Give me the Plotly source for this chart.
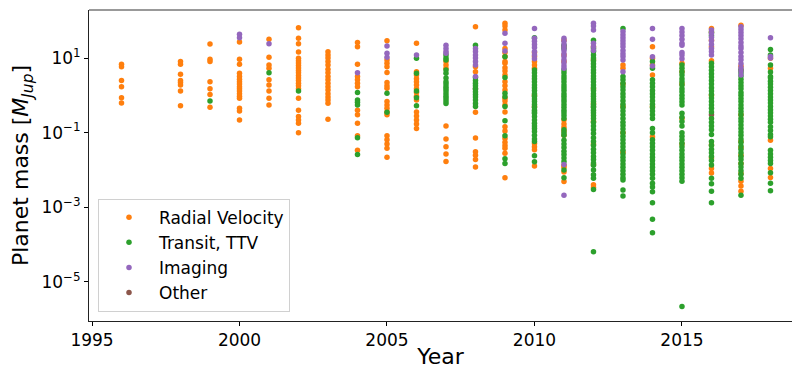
import plotly.graph_objects as go

# Planet masses [M_Jup] by discovery year, per detection method
rv_mass = {
    1996: [6.8, 5.8, 2.5, 1.7, 0.86, 0.62],
    1998: [8.0, 6.8, 3.7, 2.5, 2.2, 1.9, 1.3, 0.53],
    1999: [23.7, 9.2, 8.0, 2.3, 1.5, 1.06, 0.48],
    2000: [27, 9.2, 6.8, 3.9, 3.2, 2.7, 2.3, 2.0, 1.7, 1.5, 1.3, 1.1, 0.95, 0.83, 0.45, 0.38, 0.22],
    2001: [32, 10.4, 6.5, 5.3, 2.6, 1.9, 1.3, 0.83, 0.55],
    2002: [65, 34, 24, 14.5, 9.8, 8.5, 7.3, 6.3, 5.4, 4.6, 4.0, 3.4, 2.9, 2.5, 2.1, 1.8, 1.5,
           0.83, 0.40, 0.27, 0.22, 0.18, 0.10],
    2003: [14.7, 12, 10, 8, 6.5, 5, 4, 3.2, 2.6, 2.1, 1.7, 1.4, 1.1, 0.9, 0.75, 0.61, 0.23],
    2004: [26, 20, 6.8, 3.2, 2.6, 2.1, 1.7, 0.40, 0.30, 0.18, 0.083, 0.034],
    2005: [29, 8.8, 7.2, 5.8, 4.1, 2.2, 1.8, 1.55, 0.68, 0.55, 0.45, 0.36, 0.30, 0.083, 0.065,
           0.05, 0.038, 0.022],
    2006: [25, 4.3, 3.5, 2.8, 2.3, 1.9, 1.5, 1.2, 0.95, 0.75, 0.36, 0.28, 0.22, 0.17, 0.13],
    2007: [8, 6.5, 5.3, 0.15, 0.068, 0.042, 0.027, 0.017],
    2008: [69, 5.8, 4.3, 0.35, 0.072, 0.031, 0.025, 0.019, 0.012],
    2009: [85, 72, 56, 18, 14, 11, 8, 7.2, 5.5, 4.5, 3.5, 2.3, 1.8, 1.4, 0.83, 0.7, 0.55, 0.36,
           0.145, 0.11, 0.07, 0.055, 0.045, 0.038, 0.028, 0.0062],
    2010: [14, 11, 8, 6.5, 5.3, 1.0, 0.5, 0.051, 0.042, 0.035, 0.0128],
    2011: [30, 20, 12, 8, 0.22, 0.17, 0.14, 0.11, 0.085, 0.0134, 0.0118, 0.0089, 0.0049],
    2012: [20, 9, 1.5, 0.6, 0.2, 0.05, 0.014, 0.004, 0.0034],
    2013: [6.5, 5.3, 2, 0.5, 0.1, 0.03],
    2014: [20, 9.8, 6.5, 3.5, 0.5, 0.078],
    2015: [7.2, 4.3, 2, 0.24, 0.05],
    2016: [62, 50, 30, 20, 8.5, 1.0, 0.047, 0.021, 0.011, 0.0083],
    2017: [76, 6, 4.8, 0.3, 0.058, 0.04, 0.025, 0.015, 0.008, 0.005, 0.0037, 0.0027],
    2018: [9.8, 5.3, 0.063, 0.011, 0.0063],
}

transit_mass = {
    1999: [0.70],
    2001: [4.0],
    2002: [1.3],
    2004: [1.2, 0.75, 0.65, 0.55, 0.073, 0.026],
    2005: [1.13, 0.35],
    2006: [9.8, 3.9, 1.3, 0.86, 0.53],
    2007: [12, 10, 8.8, 4.8, 3.9, 2.9, 2.3, 2.0, 1.7, 1.5, 1.3, 1.1, 0.95, 0.82, 0.7, 0.6],
    2008: [22, 3.0, 2.5, 2.1, 1.8, 1.5, 1.25, 1.05, 0.9, 0.75, 0.6, 0.5],
    2009: [10.8, 3.0, 1.13, 0.92, 0.5, 0.21, 0.083, 0.02, 0.015],
    2010: [35, 4.8, 4.0, 3.3, 2.8, 2.3, 1.9, 1.6, 1.35, 1.1, 0.95, 0.8, 0.68, 0.57, 0.48, 0.40,
           0.36, 0.33, 0.27, 0.22, 0.18, 0.15, 0.13, 0.107, 0.085, 0.068, 0.058, 0.024, 0.0166],
    2011: [22, 18, 4.8, 4.0, 3.3, 2.8, 2.3, 1.9, 1.6, 1.35, 1.1, 0.95, 0.8, 0.68, 0.57, 0.48,
           0.40, 0.34, 0.29, 0.24, 0.12, 0.1, 0.085, 0.063, 0.05, 0.04, 0.032, 0.026, 0.021,
           0.017, 0.010, 0.0062],
    2012: [30, 18, 15, 12, 10, 8.5, 7, 5.8, 4.8, 4.0, 3.3, 2.8, 2.3, 1.9, 1.6, 1.35, 1.1, 0.95,
           0.8, 0.68, 0.57, 0.48, 0.40, 0.34, 0.29, 0.24, 0.19, 0.15, 0.12, 0.095, 0.073, 0.058,
           0.046, 0.036, 0.029, 0.023, 0.019, 0.0155, 0.0135, 0.010, 0.0075, 0.006, 0.003,
           0.000065],
    2013: [62, 3.2, 2.6, 2.1, 1.7, 1.4, 1.1, 0.9, 0.72, 0.58, 0.47, 0.38, 0.3, 0.24, 0.19,
           0.155, 0.125, 0.1, 0.08, 0.065, 0.052, 0.042, 0.034, 0.027, 0.022, 0.018, 0.0145,
           0.0118, 0.0095, 0.0077, 0.0062, 0.0054, 0.0029, 0.0020],
    2014: [8, 5.3, 2.6, 2.1, 1.7, 1.35, 1.1, 0.9, 0.72, 0.58, 0.47, 0.38, 0.3, 0.24, 0.13, 0.1,
           0.065, 0.052, 0.042, 0.034, 0.027, 0.022, 0.018, 0.0145, 0.0118, 0.0095, 0.0077,
           0.006, 0.0044, 0.0035, 0.0026, 0.00133, 0.00048, 0.00021],
    2015: [6.5, 5.3, 4.3, 3.5, 2.8, 2.3, 1.9, 1.5, 1.25, 1.0, 0.82, 0.67, 0.55, 0.33, 0.26, 0.2,
           0.15, 0.1, 0.08, 0.065, 0.052, 0.042, 0.034, 0.027, 0.022, 0.018, 0.0145, 0.0118,
           0.0095, 0.0077, 0.0062, 0.005, 0.0000022],
    2016: [49, 40, 7.2, 5.8, 4.7, 3.8, 3.1, 2.5, 2.0, 1.6, 1.3, 1.05, 0.85, 0.68, 0.55, 0.45,
           0.36, 0.24, 0.19, 0.15, 0.12, 0.09, 0.058, 0.046, 0.036, 0.029, 0.023, 0.018, 0.0137,
           0.006, 0.0043, 0.0027, 0.00133],
    2017: [4.8, 4.0, 3.3, 2.7, 2.2, 1.8, 1.5, 1.2, 1.0, 0.82, 0.68, 0.55, 0.45, 0.37, 0.30,
           0.24, 0.2, 0.16, 0.13, 0.105, 0.085, 0.068, 0.055, 0.044, 0.036, 0.029, 0.023, 0.019,
           0.015, 0.012, 0.0095, 0.0077, 0.006, 0.0021],
    2018: [17, 12, 6.5, 4.2, 3.2, 2.9, 2.4, 2.0, 1.65, 1.35, 1.1, 0.9, 0.75, 0.62, 0.5, 0.41,
           0.34, 0.28, 0.23, 0.19, 0.145, 0.115, 0.09, 0.078, 0.034, 0.027, 0.022, 0.018, 0.015,
           0.0085, 0.0044, 0.0028],
}

imaging_mass = {
    2000: [43, 35],
    2001: [24],
    2004: [4.0],
    2005: [21, 13.4, 10.5],
    2006: [12],
    2007: [22, 18, 15, 13.5],
    2008: [18, 15, 12, 10, 8, 6.5, 3.2],
    2009: [46, 25, 15.4],
    2010: [62, 34, 28, 23, 19, 15, 12, 9.5],
    2011: [34, 28, 23, 19, 16, 13, 11, 9, 7.5, 6.2, 5.3, 0.014, 0.0021],
    2012: [85, 72, 56, 25, 20, 16],
    2013: [51, 42, 35, 29, 24, 20, 16, 13, 11, 8.8, 4.3],
    2014: [62, 32, 10.8, 6.1],
    2015: [62, 50, 40, 32, 25, 22, 14, 12, 9.5],
    2016: [56, 45, 36, 29, 23, 18, 15, 12],
    2017: [69, 58, 48, 40, 33, 26, 21, 18, 14, 11, 9, 7, 5.5, 4.5, 3.5],
    2018: [35, 11, 10],
}

other_mass = {
    2008: [1.5],
    2012: [0.5],
    2016: [0.3],
}

methods = ["Radial Velocity", "Transit, TTV", "Imaging", "Other"]
colors = ["#ff7f0e", "#2ca02c", "#9467bd", "#8c564b"]
year_ticks = [1995, 2000, 2005, 2010, 2015]
mass_ticks = [1e-5, 1e-3, 1e-1, 1e1]
mass_tick_text = ["10<sup>\u22125</sup>", "10<sup>\u22123</sup>", "10<sup>\u22121</sup>", "10<sup>1</sup>"]


def flatten(d):
    xs, ys = [], []
    for yr, vals in d.items():
        for v in vals:
            xs.append(yr)
            ys.append(v)
    return xs, ys


fig = go.Figure()
order = [(3, other_mass), (0, rv_mass), (1, transit_mass), (2, imaging_mass)]
for idx, data in order:
    xs, ys = flatten(data)
    fig.add_trace(go.Scatter(
        x=xs, y=ys, mode="markers", name=methods[idx], legendrank=idx + 1,
        marker=dict(color=colors[idx], size=5.5, line=dict(width=0)),
    ))

font_family = "DejaVu Sans"
fig.update_layout(
    width=792, height=369,
    margin=dict(l=89, r=0, t=10, b=48),
    paper_bgcolor="white", plot_bgcolor="white",
    font=dict(family=font_family, color="black", size=17),
    showlegend=True,
    legend=dict(
        x=0.0128, y=0.03, xanchor="left", yanchor="bottom",
        bgcolor="white", bordercolor="#d0d0d0", borderwidth=1,
        font=dict(size=17, family=font_family), itemsizing="trace", itemwidth=50,
        tracegroupgap=0,
    ),
    xaxis=dict(
        range=[1994.898, 2018.73], tickvals=year_ticks, ticks="outside", ticklen=4,
        tickcolor="black", showline=True, linecolor="#222222", linewidth=1,
        showgrid=False, zeroline=False, tickfont=dict(size=17),
        title=dict(text="Year", font=dict(size=22), standoff=4),
    ),
    yaxis=dict(
        type="log", range=[-6.045, 2.286], tickvals=mass_ticks, ticktext=mass_tick_text,
        ticks="outside", ticklen=4, tickcolor="black", showline=True,
        linecolor="#222222", linewidth=1, showgrid=False, zeroline=False,
        tickfont=dict(size=17),
        title=dict(text="Planet mass [<i>M</i><sub><i>Jup</i></sub>]", font=dict(size=22),
                   standoff=6),
    ),
    shapes=[dict(type="line", xref="paper", yref="paper", x0=0, x1=1, y0=1, y1=1,
                 line=dict(color="#777777", width=1.5))],
)

fig.write_html("out.html")
